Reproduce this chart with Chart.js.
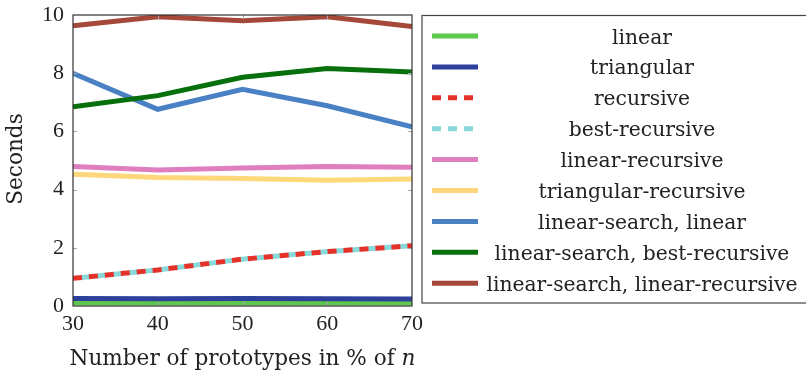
<!DOCTYPE html>
<html>
<head>
<meta charset="utf-8">
<script src="https://cdn.jsdelivr.net/npm/chart.js@4.4.1/dist/chart.umd.min.js"></script>
<style>
  html, body { margin: 0; padding: 0; background: #fff; }
  #wrap { width: 806px; height: 370px; }
</style>
</head>
<body>
<div id="wrap"><canvas id="chart" width="806" height="370"></canvas></div>
<script>
const prototypes = [30, 40, 50, 60, 70];

const linear = [0.1, 0.1, 0.1, 0.1, 0.1];
const triangular = [0.26, 0.25, 0.26, 0.25, 0.24];
const recursive = [0.95, 1.24, 1.61, 1.87, 2.07];
const bestRecursive = [0.95, 1.24, 1.61, 1.87, 2.07];
const linearRecursive = [4.79, 4.67, 4.74, 4.79, 4.77];
const triangularRecursive = [4.53, 4.42, 4.38, 4.32, 4.36];
const searchLinear = [8.0, 6.76, 7.45, 6.88, 6.16];
const searchBestRecursive = [6.85, 7.23, 7.86, 8.16, 8.04];
const searchLinearRecursive = [9.63, 9.94, 9.8, 9.94, 9.6];

const yTicks = [0, 2, 4, 6, 8, 10];

const TEXT_FONT = "'DejaVu Serif', serif";
const TICK_FONT = "'Liberation Serif', serif";

function points(values) {
  return values.map((v, i) => ({ x: prototypes[i], y: v }));
}

function series(label, values, color, dash, dashOffset) {
  return {
    label: label,
    data: points(values),
    borderColor: color,
    backgroundColor: color,
    borderWidth: 5,
    borderDash: dash || [],
    borderDashOffset: dashOffset || 0,
    pointRadius: 0,
    tension: 0,
    fill: false
  };
}

const datasets = [
  series("linear", linear, "#5cc84c"),
  series("triangular", triangular, "#2d409b"),
  series("best-recursive", bestRecursive, "#88dada", [9, 7], 8),
  series("recursive", recursive, "#e4322a", [9, 7]),
  series("linear-recursive", linearRecursive, "#e07fbf"),
  series("triangular-recursive", triangularRecursive, "#fdd77a"),
  series("linear-search, linear", searchLinear, "#4a80c4"),
  series("linear-search, best-recursive", searchBestRecursive, "#07700c"),
  series("linear-search, linear-recursive", searchLinearRecursive, "#a4483a")
];
// pgfplots draws later plots on top
datasets.forEach((d, i) => { d.order = datasets.length - i; });

const legendOrder = [
  "linear", "triangular", "recursive", "best-recursive", "linear-recursive",
  "triangular-recursive", "linear-search, linear",
  "linear-search, best-recursive", "linear-search, linear-recursive"
];

const pgfDecor = {
  id: "pgfDecor",
  afterDraw(chart) {
    const ctx = chart.ctx;
    const area = chart.chartArea;
    const xs = chart.scales.x;
    const ys = chart.scales.y;
    ctx.save();

    // inward ticks
    ctx.strokeStyle = "#aaa";
    ctx.lineWidth = 1;
    prototypes.slice(1, -1).forEach(v => {
      const px = Math.round(xs.getPixelForValue(v)) + 0.5;
      ctx.beginPath();
      ctx.moveTo(px, area.bottom); ctx.lineTo(px, area.bottom - 4);
      ctx.moveTo(px, area.top); ctx.lineTo(px, area.top + 4);
      ctx.stroke();
    });
    yTicks.slice(1, -1).forEach(v => {
      const py = Math.round(ys.getPixelForValue(v)) + 0.5;
      ctx.beginPath();
      ctx.moveTo(area.left, py); ctx.lineTo(area.left + 4, py);
      ctx.moveTo(area.right, py); ctx.lineTo(area.right - 4, py);
      ctx.stroke();
    });

    // frame
    ctx.strokeStyle = "#333";
    ctx.lineWidth = 1.2;
    ctx.strokeRect(area.left, area.top, area.right - area.left, area.bottom - area.top);

    // axis titles
    ctx.fillStyle = "#222";
    ctx.textBaseline = "alphabetic";
    const main = "Number of prototypes in % of ";
    ctx.font = "21.6px " + TEXT_FONT;
    const w1 = ctx.measureText(main).width;
    ctx.font = "italic 21.6px " + TEXT_FONT;
    const w2 = ctx.measureText("n").width;
    let tx = (area.left + area.right) / 2 - (w1 + w2) / 2;
    ctx.textAlign = "left";
    ctx.font = "21.6px " + TEXT_FONT;
    ctx.fillText(main, tx, 365);
    ctx.font = "italic 21.6px " + TEXT_FONT;
    ctx.fillText("n", tx + w1, 365);

    ctx.save();
    ctx.translate(16, 159);
    ctx.rotate(-Math.PI / 2);
    ctx.font = "21.6px " + TEXT_FONT;
    ctx.textAlign = "center";
    ctx.textBaseline = "middle";
    ctx.fillText("Seconds", 0, 0);
    ctx.restore();

    // legend
    const boxLeft = 422, boxTop = 15.5, boxRight = 810, boxBottom = 303;
    ctx.fillStyle = "#fff";
    ctx.fillRect(boxLeft, boxTop, boxRight - boxLeft, boxBottom - boxTop);
    ctx.strokeStyle = "#444";
    ctx.lineWidth = 1.2;
    ctx.strokeRect(boxLeft, boxTop, boxRight - boxLeft, boxBottom - boxTop);

    ctx.font = "20.3px " + TEXT_FONT;
    ctx.textAlign = "center";
    ctx.textBaseline = "alphabetic";
    legendOrder.forEach((label, i) => {
      const ds = chart.data.datasets.find(d => d.label === label);
      const y = 36 + i * 30.9;
      ctx.strokeStyle = ds.borderColor;
      ctx.lineWidth = 5;
      ctx.setLineDash(ds.borderDash.length ? [9, 7] : []);
      ctx.beginPath();
      ctx.moveTo(432, y);
      ctx.lineTo(478, y);
      ctx.stroke();
      ctx.setLineDash([]);
      ctx.fillStyle = "#222";
      ctx.fillText(label, 642, y + 7.5);
    });
    ctx.restore();
  }
};

new Chart(document.getElementById("chart"), {
  type: "line",
  data: { datasets: datasets },
  options: {
    responsive: false,
    animation: false,
    layout: { padding: { top: 15, right: 394, left: 0, bottom: 0 } },
    plugins: {
      legend: { display: false },
      tooltip: { enabled: false }
    },
    scales: {
      x: {
        type: "linear",
        min: 30,
        max: 70,
        grid: { display: false, drawTicks: false },
        border: { display: false },
        ticks: {
          stepSize: 10,
          color: "#222",
          padding: 5,
          font: { family: TICK_FONT, size: 22 }
        },
        afterFit(scale) {
          scale.height = 64;
          scale.paddingLeft = 0;
          scale.paddingRight = 0;
        }
      },
      y: {
        min: 0,
        max: 10,
        grid: { display: false, drawTicks: false },
        border: { display: false },
        afterBuildTicks(scale) { scale.ticks = yTicks.map(v => ({ value: v })); },
        ticks: {
          color: "#222",
          padding: 9,
          font: { family: TICK_FONT, size: 22 }
        },
        afterFit(scale) {
          scale.width = 73;
          scale.paddingTop = 0;
          scale.paddingBottom = 0;
        }
      }
    }
  },
  plugins: [pgfDecor]
});
</script>
</body>
</html>
